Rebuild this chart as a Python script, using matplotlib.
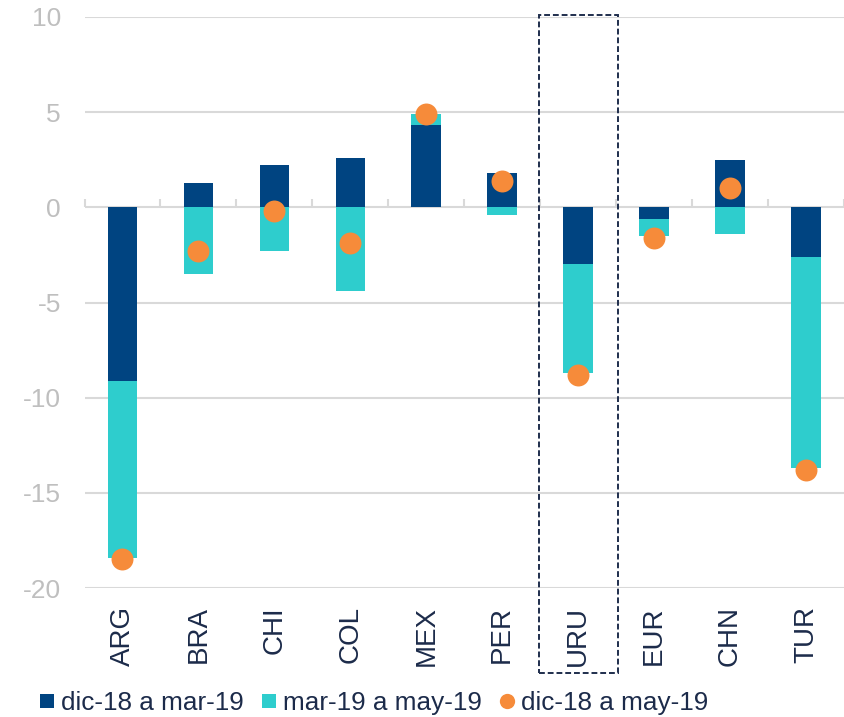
import matplotlib
matplotlib.use("Agg")
import matplotlib.pyplot as plt
from matplotlib.lines import Line2D
from matplotlib.patches import Rectangle
import matplotlib.transforms as mtransforms

plt.rcParams['font.family'] = ['Liberation Sans', 'DejaVu Sans']

categories = ['ARG', 'BRA', 'CHI', 'COL', 'MEX', 'PER', 'URU', 'EUR', 'CHN', 'TUR']
dic_mar = [-9.1, 1.3, 2.2, 2.6, 4.3, 1.8, -3.0, -0.6, 2.5, -2.6]
mar_may = [-9.3, -3.5, -2.3, -4.4, 0.6, -0.4, -5.7, -0.9, -1.4, -11.1]
dic_may = [-18.5, -2.3, -0.2, -1.9, 4.9, 1.4, -8.8, -1.6, 1.0, -13.8]
series_names = ['dic-18 a mar-19', 'mar-19 a may-19', 'dic-18 a may-19']
yticks = [-20, -15, -10, -5, 0, 5, 10]
highlight = 'URU'

c_dark = '#004481'
c_cyan = '#2ECDCD'
c_orange = '#F68B3A'
c_grid = '#D9D9D9'
c_ytext = '#BFBFBF'
c_text = '#1C2B4A'
c_box = '#1F2E4D'

fig = plt.figure(figsize=(8.45, 7.17), dpi=100)
ax = fig.add_axes([84.5 / 845, 1 - 588 / 717, (844 - 84.5) / 845, (588 - 17) / 717])

x = list(range(len(categories)))
w = 0.39
ax.bar(x, dic_mar, width=w, color=c_dark, zorder=3)
bottoms = [d if (d * m > 0) else 0 for d, m in zip(dic_mar, mar_may)]
ax.bar(x, mar_may, width=w, bottom=bottoms, color=c_cyan, zorder=3)
ax.plot(x, dic_may, linestyle='none', marker='o', markersize=15.8,
        color=c_orange, markeredgewidth=0, zorder=4)

ax.set_xlim(-0.5, len(categories) - 0.5)
ax.set_ylim(yticks[0], yticks[-1])
ax.set_yticks(yticks)
ax.set_yticklabels([str(t) for t in yticks])
ax.yaxis.grid(True, color=c_grid, linewidth=1.5, zorder=0)
ax.set_axisbelow(True)
for s in ax.spines.values():
    s.set_visible(False)
ax.tick_params(axis='y', length=0, pad=17, labelsize=19, labelcolor=c_ytext)

ax.set_xticks(x)
ax.set_xticklabels(categories, rotation=90, fontsize=20, color=c_text)
ax.tick_params(axis='x', length=0, pad=13)

# zero-line axis with category boundary ticks
zero_pos = (0 - yticks[0]) / (yticks[-1] - yticks[0])
sec = ax.secondary_xaxis(zero_pos)
sec.set_xticks([i - 0.5 for i in range(len(categories) + 1)])
sec.set_xticklabels([])
sec.tick_params(axis='x', length=6, width=1.5, color=c_grid, direction='out')
for s in sec.spines.values():
    s.set_visible(False)

# highlight box
hi = categories.index(highlight)
trans = mtransforms.blended_transform_factory(ax.transData, fig.transFigure)
y_bot = 1 - 673 / 717
y_top = 1 - 15 / 717
rect = Rectangle((hi - 0.52, y_bot), 1.04, y_top - y_bot, transform=trans,
                 fill=False, edgecolor=c_box, linewidth=1.4,
                 linestyle=(0, (3, 1.5)), clip_on=False, zorder=5)
fig.add_artist(rect)

handles = [
    Line2D([], [], linestyle='none', marker='s', markersize=9.6, color=c_dark, markeredgewidth=0),
    Line2D([], [], linestyle='none', marker='s', markersize=9.6, color=c_cyan, markeredgewidth=0),
    Line2D([], [], linestyle='none', marker='o', markersize=11, color=c_orange, markeredgewidth=0),
]
leg = fig.legend(handles, series_names, loc='center left', bbox_to_anchor=(39 / 845, 1 - 703 / 717),
                 ncol=3, frameon=False, fontsize=18.8, handlelength=0.6, handletextpad=0.25,
                 columnspacing=0.65, borderpad=0, borderaxespad=0)
for t in leg.get_texts():
    t.set_color(c_text)

fig.savefig('out.png', dpi=100)
